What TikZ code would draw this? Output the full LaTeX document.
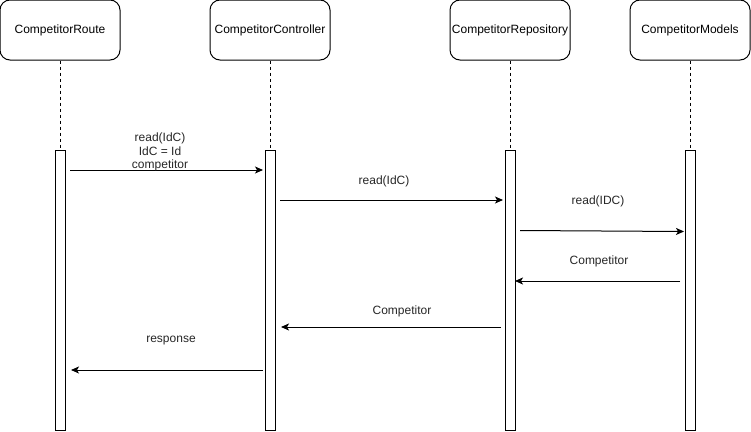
\documentclass[tikz,border=0pt]{standalone}
\usepackage{fontspec}
\setmainfont{Liberation Sans}
\usetikzlibrary{arrows.meta}
\begin{document}
\begin{tikzpicture}[x=1pt,y=-1pt,
  actor/.style={draw, rounded corners=10pt, line width=1pt, minimum width=120pt,
    minimum height=60pt, inner sep=0pt, font=\fontsize{12}{14}\selectfont},
  activation/.style={draw, fill=white, line width=1pt, minimum width=10pt,
    minimum height=280pt, inner sep=0pt},
  lifeline/.style={line width=1pt, dash pattern=on 3pt off 3pt},
  msg/.style={line width=1pt, -{Stealth[length=8pt,width=7pt,inset=2pt]}},
  lbl/.style={font=\fontsize{12}{13.5}\selectfont, align=center, inner sep=0pt,
    text=black!85}]
\useasboundingbox (0,0) rectangle (751,431);

% participants
\node[actor] (route) at (60,30) {CompetitorRoute};
\node[actor] (ctrl)  at (270,30) {CompetitorController};
\node[actor] (repo)  at (510,30) {CompetitorRepository};
\node[actor] (model) at (690,30) {CompetitorModels};

% activation bars
\node[activation] (barRoute) at (60,290) {};
\node[activation] (barCtrl)  at (270,290) {};
\node[activation] (barRepo)  at (510,290) {};
\node[activation] (barModel) at (690,290) {};

% lifelines
\draw[lifeline] (route.south) -- (barRoute.north);
\draw[lifeline] (ctrl.south)  -- (barCtrl.north);
\draw[lifeline] (repo.south)  -- (barRepo.north);
\draw[lifeline] (model.south) -- (barModel.north);

% message end points
\coordinate (m1s) at (70,170);   \coordinate (m1e) at (263,170);
\coordinate (m2s) at (280,200);  \coordinate (m2e) at (503,200);
\coordinate (m3s) at (520,230.5);\coordinate (m3e) at (684,231.5);
\coordinate (m4s) at (680,281);  \coordinate (m4e) at (515,281);
\coordinate (m5s) at (501,327);  \coordinate (m5e) at (281,327);
\coordinate (m6s) at (263,370);  \coordinate (m6e) at (71,370);

% messages
\draw[msg] (m1s) -- (m1e);
\draw[msg] (m2s) -- (m2e);
\draw[msg] (m3s) -- (m3e);
\draw[msg] (m4s) -- (m4e);
\draw[msg] (m5s) -- (m5e);
\draw[msg] (m6s) -- (m6e);

% message labels
\node[lbl] (l1) at (160,152) {read(IdC)\\IdC = Id\\competitor};
\node[lbl] (l2) at (384,181) {read(IdC)};
\node[lbl] (l3) at (598,201) {read(IDC)};
\node[lbl] (l4) at (599,261) {Competitor};
\node[lbl] (l5) at (402,311) {Competitor};
\node[lbl] (l6) at (171,341) {response};
\end{tikzpicture}
\end{document}
